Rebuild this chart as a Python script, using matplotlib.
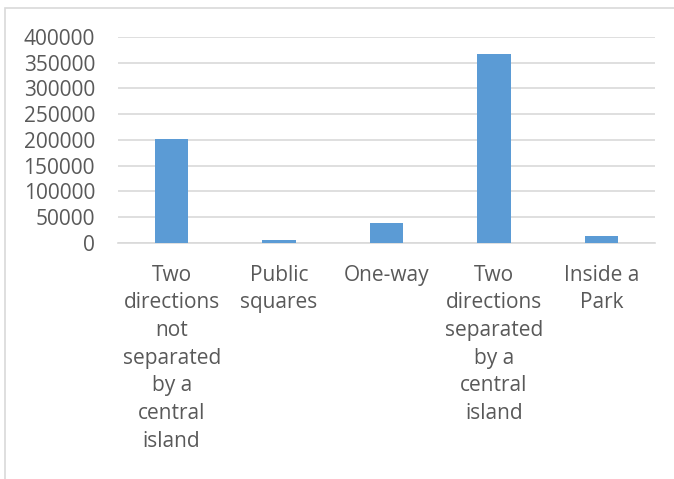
import matplotlib.pyplot as plt
from matplotlib.patches import Rectangle

categories = ["Two\ndirections\nnot\nseparated\nby a\ncentral\nisland",
              "Public\nsquares",
              "One-way",
              "Two\ndirections\nseparated\nby a\ncentral\nisland",
              "Inside a\nPark"]
values = [202000, 5000, 38500, 367000, 13000]
yticks = list(range(0, 400001, 50000))

plt.rcParams['font.family'] = ['Open Sans', 'DejaVu Sans']
text_color = '#595959'
grid_color = '#d9d9d9'

fig = plt.figure(figsize=(6.74, 4.79), dpi=100)
ax = fig.add_axes([0.175, 0.4927, 0.797, 0.4301])

# outer chart border (only left/top visible in the crop)
fig.patches.append(Rectangle((5 / 674, -0.1), 1.2, 1 - 8 / 479 + 0.1,
                             transform=fig.transFigure, fill=False,
                             edgecolor=grid_color, linewidth=1.2))

x = range(len(categories))
ax.bar(x, values, width=0.31, color='#5b9bd5', zorder=3)

ax.set_xlim(-0.5, len(categories) - 0.5)
ax.set_ylim(0, 400000)
ax.set_yticks(yticks)
ax.set_yticklabels([str(v) for v in yticks])
ax.set_xticks(list(x))
ax.set_xticklabels(categories, linespacing=1.42, va='top')
ax.grid(axis='y', color=grid_color, linewidth=1.2, zorder=0)
for side in ['top', 'right', 'left']:
    ax.spines[side].set_visible(False)
ax.spines['bottom'].set_color(grid_color)
ax.spines['bottom'].set_linewidth(1.2)
ax.tick_params(axis='both', length=0, labelsize=15, colors=text_color)
ax.tick_params(axis='y', pad=16.5)
ax.tick_params(axis='x', pad=15.5)

fig.savefig('out.png', dpi=100)
